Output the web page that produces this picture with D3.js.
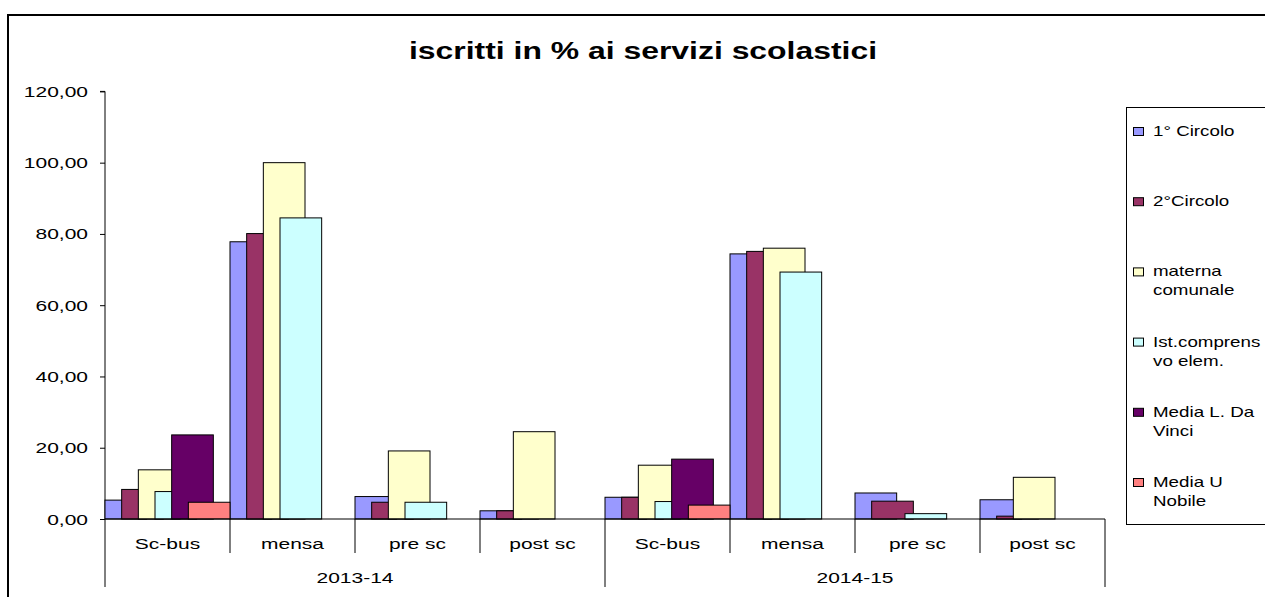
<!DOCTYPE html>
<html>
<head>
<meta charset="utf-8">
<script src="https://cdn.jsdelivr.net/npm/d3@7"></script>
<style>
  html, body { margin: 0; padding: 0; background: #fff; overflow: hidden; }
  svg { display: block; font-family: "Liberation Sans", Arial, sans-serif; }
</style>
</head>
<body>
<svg id="chart" width="1265" height="597"></svg>
<script>
// ---- data ----
const title = "iscritti in % ai servizi scolastici";
const years = ["2013-14", "2014-15"];
const services = ["Sc-bus", "mensa", "pre sc", "post sc"];
const seriesNames = ["1° Circolo", "2°Circolo", "materna comunale", "Ist.comprensivo elem.", "Media L. Da Vinci", "Media U Nobile"];
const legendLines = [["1° Circolo"], ["2°Circolo"], ["materna", "comunale"], ["Ist.comprens", "vo elem."], ["Media L. Da", "Vinci"], ["Media U", "Nobile"]];
const seriesColors = ["#9999FF", "#993366", "#FFFFCC", "#CCFFFF", "#660066", "#FF8080"];
// values per series, order: 2013-14 (Sc-bus, mensa, pre sc, post sc), 2014-15 (same)
const primoCircolo   = [5.3, 77.8, 6.3, 2.3, 6.1, 74.4, 7.3, 5.4];
const secondoCircolo = [8.3, 80.1, 4.7, 2.3, 6.1, 75.1, 5.0, 0.8];
const maternaComunale = [13.8, 100.0, 19.1, 24.5, 15.1, 76.0, null, 11.7];
const istComprensivo = [7.7, 84.5, 4.7, null, 4.9, 69.3, 1.5, null];
const mediaDaVinci   = [23.6, null, null, null, 16.8, null, null, null];
const mediaNobile    = [4.7, null, null, null, 3.9, null, null, null];
const seriesValues = [primoCircolo, secondoCircolo, maternaComunale, istComprensivo, mediaDaVinci, mediaNobile];
const yTicks = [0, 20, 40, 60, 80, 100, 120];

// ---- layout ----
const SX = 1.4; // horizontal stretch of text in the reference
const svg = d3.select("#chart");
const plot = { left: 105, right: 1105, top: 91.4, bottom: 519 };

const cats = [];
years.forEach(y => services.forEach(s => cats.push(y + "|" + s)));

const x = d3.scaleBand().domain(cats).range([plot.left, plot.right]).paddingInner(0).paddingOuter(0);
const y = d3.scaleLinear().domain([0, 120]).range([plot.bottom, plot.top]);
const step = x.bandwidth() / 7.5;
const barW = step * 2.5;
const xs = d3.scaleLinear().domain([0, 1]).range([0, step]);

const it = d3.formatLocale({ decimal: ",", thousands: ".", grouping: [3], currency: ["€", ""] });
const fmt = it.format(".2f");

function txt(g, str, px, py, size, anchor, weight, sx) {
  return g.append("text")
    .attr("transform", `translate(${px},${py}) scale(${sx || SX},1)`)
    .attr("text-anchor", anchor || "start")
    .attr("font-size", size)
    .attr("font-weight", weight || "normal")
    .attr("fill", "#000")
    .text(str);
}

// outer border
svg.append("rect").attr("x", 8).attr("y", 15).attr("width", 1400).attr("height", 800)
  .attr("fill", "none").attr("stroke", "#000").attr("stroke-width", 2);

// title
txt(svg, title, 643, 59, 24, "middle", "bold", 1.33);

// y axis
const yAxis = d3.axisLeft(y).tickValues(yTicks).tickSize(5).tickPadding(4).tickFormat(d => fmt(d));
const gy = svg.append("g").attr("transform", `translate(${plot.left},0)`).call(yAxis);
gy.select(".domain").attr("stroke", "#000").attr("d", `M-5,${y(120)}H0V${y(0)}`);
gy.selectAll(".tick line").attr("stroke", "#000");
gy.selectAll(".tick text").remove();
yTicks.forEach(v => txt(svg, fmt(v), 88, y(v) + 5.5, 15, "end"));

// bars
seriesValues.forEach((vals, si) => {
  svg.append("g").selectAll("rect")
    .data(vals.map((v, i) => ({ v, c: cats[i] })).filter(d => d.v != null))
    .join("rect")
    .attr("x", d => x(d.c) + xs(si))
    .attr("y", d => y(d.v))
    .attr("width", barW)
    .attr("height", d => y(0) - y(d.v))
    .attr("fill", seriesColors[si])
    .attr("stroke", "#000")
    .attr("stroke-width", 1);
});

// category axis
const gx = svg.append("g");
gx.append("line").attr("x1", plot.left).attr("x2", plot.right).attr("y1", y(0)).attr("y2", y(0)).attr("stroke", "#000");
cats.forEach((c, i) => {
  const x0 = x(c);
  const isGroup = i % services.length === 0;
  gx.append("line").attr("x1", x0).attr("x2", x0).attr("y1", y(0)).attr("y2", isGroup ? 587 : 553).attr("stroke", "#000");
  txt(gx, c.split("|")[1], x0 + x.bandwidth() / 2, 549, 15, "middle");
});
gx.append("line").attr("x1", plot.right).attr("x2", plot.right).attr("y1", y(0)).attr("y2", 587).attr("stroke", "#000");
years.forEach(yr => {
  const first = x(yr + "|" + services[0]);
  const last = x(yr + "|" + services[services.length - 1]) + x.bandwidth();
  txt(gx, yr, (first + last) / 2, 583, 15, "middle");
});

// legend
const lg = svg.append("g");
lg.append("rect").attr("x", 1126.5).attr("y", 107.5).attr("width", 300).attr("height", 417)
  .attr("fill", "#fff").attr("stroke", "#000").attr("stroke-width", 1);
const legendY = d3.scaleLinear().domain([0, 5]).range([136, 487]);
legendLines.forEach((lines, i) => {
  const by = legendY(i);
  lg.append("rect").attr("x", 1133.5).attr("y", by - 8.5).attr("width", 10).attr("height", 8)
    .attr("fill", seriesColors[i]).attr("stroke", "#000").attr("stroke-width", 1);
  lines.forEach((l, k) => txt(lg, l, 1153, by + k * 19, 14, "start", "normal", 1.34));
});
</script>
</body>
</html>
